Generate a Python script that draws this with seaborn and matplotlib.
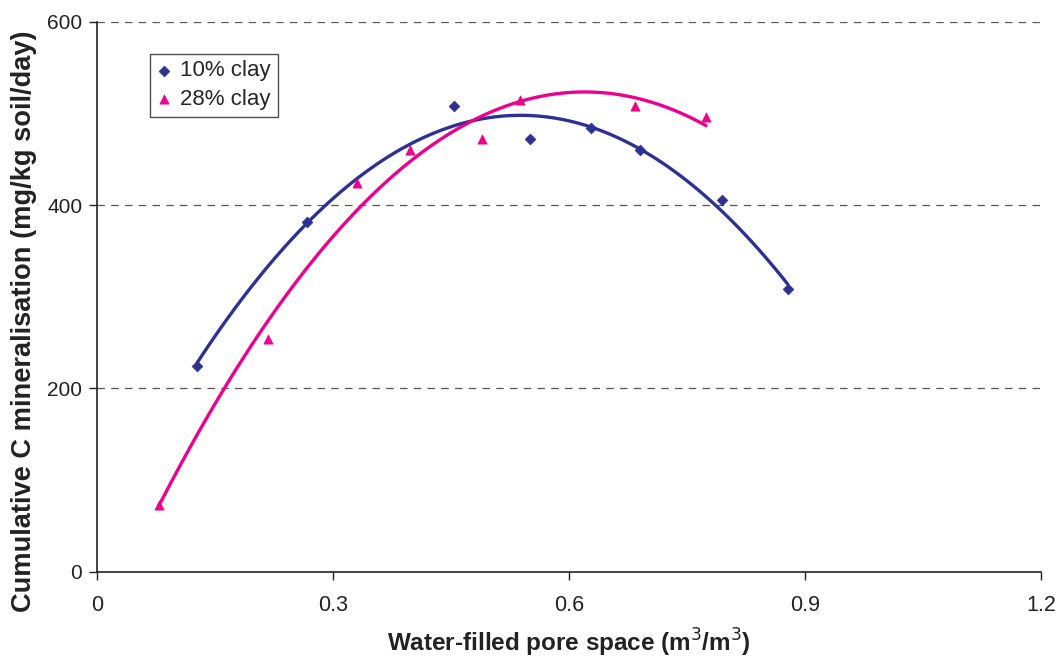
import numpy as np
import pandas as pd
import seaborn as sns
import matplotlib.pyplot as plt

# data
wfps_10 = [0.127, 0.266, 0.454, 0.550, 0.628, 0.690, 0.794, 0.878]
cmin_10 = [225, 382, 508, 472, 484, 460, 406, 309]

wfps_28 = [0.078, 0.217, 0.330, 0.398, 0.489, 0.538, 0.684, 0.774]
cmin_28 = [73, 254, 424, 460, 472, 515, 508, 496]

x_ticks = [0, 0.3, 0.6, 0.9, 1.2]
x_tick_labels = ["0", "0.3", "0.6", "0.9", "1.2"]
y_ticks = [0, 200, 400, 600]

blue = "#2E3192"
pink = "#EC008C"

df = pd.concat([
    pd.DataFrame({"wfps": wfps_10, "cmin": cmin_10, "soil": "10% clay"}),
    pd.DataFrame({"wfps": wfps_28, "cmin": cmin_28, "soil": "28% clay"}),
])

sns.set_style("white")
plt.rcParams["font.family"] = ["Liberation Sans", "DejaVu Sans"]

fig, ax = plt.subplots(figsize=(10.59, 6.61), dpi=100)

styles = {"10% clay": (blue, "D", 30), "28% clay": (pink, "^", 44)}
for soil, sub in df.groupby("soil"):
    col, mk, sz = styles[soil]
    # quadratic trend line, like the spreadsheet trendline
    sns.regplot(data=sub, x="wfps", y="cmin", order=2, ci=None, truncate=True,
                scatter=False, color=col, line_kws={"lw": 2.4}, ax=ax)
    sns.scatterplot(data=sub, x="wfps", y="cmin", marker=mk, s=sz, color=col,
                    edgecolor=col, linewidth=0.5, label=soil, ax=ax, zorder=3)

ax.set_xlim(0, 1.2)
ax.set_ylim(0, 600)
ax.set_xticks(x_ticks)
ax.set_xticklabels(x_tick_labels, fontsize=15.5)
ax.set_yticks(y_ticks)
ax.tick_params(axis="both", direction="out", length=6, width=1, color="#222222",
               labelcolor="#222222", bottom=True, left=True)
ax.tick_params(axis="x", pad=11)
ax.tick_params(axis="y", pad=5, labelsize=15)
for v in y_ticks[1:]:
    ax.axhline(v, color="#555555", lw=0.9, ls=(0, (6, 5)), zorder=0)

for s in ["top", "right"]:
    ax.spines[s].set_visible(False)
for s in ["left", "bottom"]:
    ax.spines[s].set_color("#222222")
    ax.spines[s].set_linewidth(1.2)

ax.set_xlabel("Water-filled pore space (m$^3$/m$^3$)", fontsize=17.5,
              fontweight="bold", color="#222222")
ax.xaxis.set_label_coords(0.5, -0.1)
ax.set_ylabel("Cumulative C mineralisation (mg/kg soil/day)", fontsize=19.6,
              fontweight="bold", color="#222222")
ax.yaxis.set_label_coords(-0.064, 0.456)

leg = ax.legend(loc="upper left", bbox_to_anchor=(0.056, 0.942), fontsize=16,
                frameon=True, fancybox=False, edgecolor="#222222",
                handletextpad=0.45, borderpad=0.3, labelspacing=0.35,
                handlelength=0.6, borderaxespad=0)
leg.get_frame().set_linewidth(1.0)

plt.subplots_adjust(left=0.092, right=0.983, top=0.967, bottom=0.135)
plt.savefig("out.png", dpi=100)
